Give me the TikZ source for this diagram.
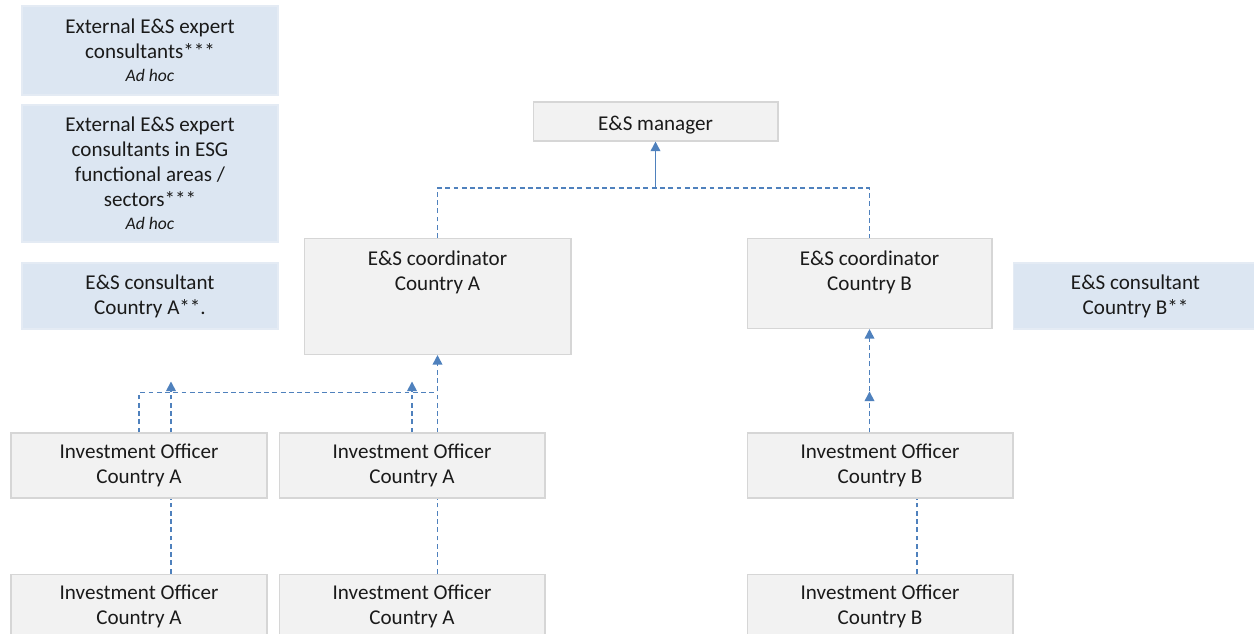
\documentclass[tikz,border=0pt]{standalone}
\usepackage{fontspec}
\setmainfont{Carlito}
\usepackage{xcolor}
\usetikzlibrary{positioning,arrows.meta}

\definecolor{boxgrey}{HTML}{F2F2F2}
\definecolor{boxline}{HTML}{D6D6D6}
\definecolor{consfill}{HTML}{DCE6F2}
\definecolor{consline}{HTML}{E4EBF4}
\definecolor{linkblue}{HTML}{4F81BD}
\definecolor{inkgrey}{HTML}{1A1A1A}

% coordinator box: text sits at the top of a fixed-size frame
\newcommand{\topbox}[3]{\parbox[c][#2][t]{#1}{\centering\rule{0pt}{0.54cm}#3}}

\begin{document}
\begin{tikzpicture}[x=0.02cm,y=-0.02cm,>={Triangle[length=5.5pt,width=5.5pt]},node distance=1.5cm]
\tikzstyle{unit}=[draw=boxline,fill=boxgrey,line width=0.6pt,align=center,text=inkgrey,
  font=\fontsize{12}{14.2}\selectfont,inner sep=0pt]
\tikzstyle{consultant}=[unit,draw=consline,fill=consfill,minimum width=5.12cm]
\tikzstyle{officer}=[unit,minimum width=5.12cm,minimum height=1.3cm]
\tikzstyle{coordinator}=[unit,anchor=north]
\tikzstyle{report}=[draw=linkblue,line width=0.95pt]
\tikzstyle{informal}=[report,dash pattern=on 2.8pt off 1.9pt]

\useasboundingbox (0,0) rectangle (1254,634);

% external and local consultants
\node[consultant,minimum height=1.78cm] (ext1) at (150,50.5)
  {External E\&S expert\\consultants***\\[-1.3pt]{\fontsize{10}{12}\selectfont\itshape Ad hoc}};
\node[consultant,minimum height=2.74cm] (ext2) at (150,173.5)
  {External E\&S expert\\consultants in ESG\\functional areas /\\sectors***\\[-1.3pt]{\fontsize{10}{12}\selectfont\itshape Ad hoc}};
\node[consultant,minimum height=1.32cm] (consA) at (150,296) {E\&S consultant\\Country A**.};
\node[consultant,minimum height=1.32cm,minimum width=4.9cm] (consB) at (1135.5,296) {E\&S consultant\\Country B**};

% management
\node[unit,minimum width=4.9cm,minimum height=0.78cm,text height=0.42cm,text depth=0.07cm] (manager) at (655.5,121.5) {E\&S manager};
\node[coordinator] (coordA) at (437.5,238) {\topbox{5.34cm}{2.32cm}{E\&S coordinator\\Country A}};
\node[coordinator] (coordB) at (869.5,238) {\topbox{4.9cm}{1.8cm}{E\&S coordinator\\Country B}};

% investment officers
\node[officer] (ioA1) at (139,465.5) {Investment Officer\\Country A};
\node[officer,minimum width=5.32cm] (ioA2) [right=0.22cm of ioA1] {Investment Officer\\Country A};
\node[officer] (ioA3) [below=of ioA1] {Investment Officer\\Country A};
\node[officer,minimum width=5.32cm] (ioA4) [below=of ioA2] {Investment Officer\\Country A};
\node[officer,minimum width=5.32cm] (ioB1) at (880,465.5) {Investment Officer\\Country B};
\node[officer,minimum width=5.32cm] (ioB2) [below=of ioB1] {Investment Officer\\Country B};

% coordinators up to the manager
\coordinate (hub) at (655.5,188);
\draw[report,->] (hub) -- (manager.south);
\draw[informal] (coordA.north) |- (hub) -| (coordB.north);

% country A officers
\draw[informal] (ioA1.north) -- ++(0,-40) -- ++(298,0);
\draw[informal,->] ([xshift=0.64cm]ioA1.north) -- ++(0,-51);
\draw[informal,->] (ioA2.north) -- ++(0,-51);
\draw[informal,->] (ioA2.north -| coordA.south) -- (coordA.south);
\draw[informal] ([xshift=0.64cm]ioA3.north) -- ([xshift=0.64cm]ioA1.south);
\draw[informal] (ioA4.north -| coordA.south) -- (ioA2.south -| coordA.south);

% country B officers
\draw[informal,->] (ioB1.north -| coordB.south) -- (coordB.south);
\draw[informal,->] (ioB1.north -| coordB.south) -- ++(0,-41);
\draw[informal] ([xshift=0.74cm]ioB2.north) -- ([xshift=0.74cm]ioB1.south);
\end{tikzpicture}
\end{document}
